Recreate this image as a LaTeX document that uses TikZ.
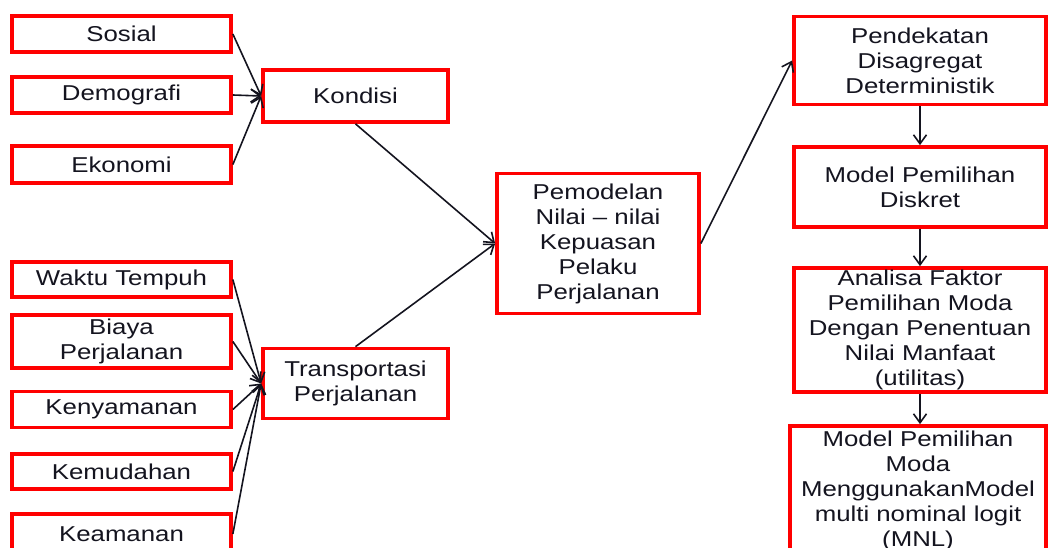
\documentclass[tikz,border=0pt]{standalone}
\usepackage{fontspec}
\setmainfont[FakeStretch=1.2]{Liberation Sans}
\usetikzlibrary{arrows.meta,positioning}
\definecolor{ink}{HTML}{14141F}
\definecolor{boxred}{HTML}{FF0000}
\tikzset{
  factor/.style={
    draw=boxred,
    line width=3.7pt,
    fill=white,
    text=ink,
    minimum width=219pt,
    align=center,
    inner sep=1pt,
    font=\fontsize{21.5}{25}\selectfont
  },
  group/.style={
    factor,
    minimum width=185pt
  },
  model/.style={
    factor,
    minimum width=252pt
  },
  link/.style={
    -{Straight Barb[length=9pt,width=13pt]},
    line width=1.6pt,
    draw=ink
  }
}

\begin{document}
\begin{tikzpicture}[x=1pt, y=-1pt]
  \useasboundingbox (0,0) rectangle (1048,548);
  \clip (0,0) rectangle (1048,548);
  % Kondisi factors.
  \node[factor, minimum height=36pt] (sosial) at (121.5,34) {Sosial};
  \node[factor, minimum height=36pt] (demografi) at (121.5,95) {Demografi};
  \node[factor, minimum height=37pt] (ekonomi) at (121.5,164.5) {Ekonomi};
  \node[group, minimum height=52pt] (kondisi) at (355.5,96) {Kondisi};

  % Transportasi factors.
  \node[factor, minimum height=35pt] (waktu) at (121.5,279.5) {Waktu Tempuh};
  \node[factor, minimum height=53pt] (biaya) at (121.5,341.5) {Biaya\\Perjalanan};
  \node[factor, minimum height=36pt] (nyaman) at (121.5,409.5) {Kenyamanan};
  \node[factor, minimum height=35pt] (mudah) at (121.5,471.5) {Kemudahan};
  \node[factor, minimum height=40pt] (aman) at (121.5,534) {Keamanan};
  \node[group, minimum height=70pt] (transport) at (355.5,383.5)
    {Transportasi\\Perjalanan};

  % Pemodelan.
  \node[factor, minimum width=202pt, minimum height=140pt] (pemodelan)
    at (598,243.5) {Pemodelan\\Nilai -- nilai\\Kepuasan\\Pelaku\\Perjalanan};

  % Model chain.
  \node[model, minimum height=88pt] (pendekatan) at (920,60.5)
    {Pendekatan\\Disagregat\\Deterministik};
  \node[model, minimum height=80pt] (diskret) at (920,187)
    {Model Pemilihan\\Diskret};
  \node[model, minimum height=124pt] (analisa) at (920,330)
    {Analisa Faktor\\Pemilihan Moda\\Dengan Penentuan\\Nilai Manfaat\\(utilitas)};
  \node[model, minimum width=256pt, minimum height=130pt] (mnl) at (918,491)
    {Model Pemilihan\\Moda\\MenggunakanModel\\multi nominal logit\\(MNL)};

  \foreach \src in {sosial, demografi, ekonomi}
    \draw[link] (\src.east) -- (kondisi.west);
  \foreach \src in {waktu, biaya, nyaman, mudah, aman}
    \draw[link] (\src.east) -- (transport.west);
  \draw[link] (kondisi.south) -- (pemodelan.west);
  \draw[link] (transport.north) -- (pemodelan.west);
  \draw[link] (pemodelan.east) -- (pendekatan.west);
  \draw[link] (pendekatan.south) -- (diskret.north);
  \draw[link] (diskret.south) -- (analisa.north);
  \draw[link] (analisa.south) -- (mnl.north -| analisa.south);
\end{tikzpicture}
\end{document}
